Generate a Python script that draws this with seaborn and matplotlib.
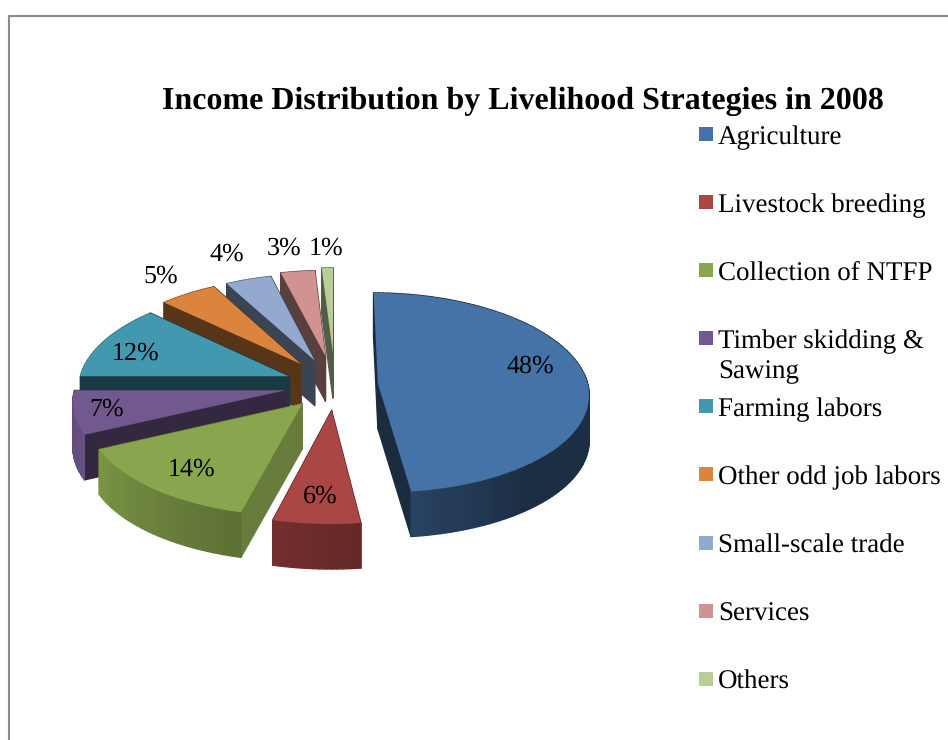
import numpy as np
import matplotlib
matplotlib.use("Agg")
import matplotlib.pyplot as plt
from matplotlib.collections import PolyCollection
from matplotlib.patches import Rectangle
from matplotlib.lines import Line2D
from matplotlib.transforms import Transform
import seaborn as sns

# Income shares in percent
strategies = ["Agriculture", "Livestock breeding", "Collection of NTFP",
              "Timber skidding &\nSawing", "Farming labors", "Other odd job labors",
              "Small-scale trade", "Services", "Others"]
shares = [48, 6, 14, 7, 12, 5, 4, 3, 1]
title = "Income Distribution by Livelihood Strategies in 2008"

# Styling
slice_colors = ["#4572A7", "#AA4643", "#89A54E", "#71588F", "#4198AF",
                "#DB843D", "#93A9CF", "#D19392", "#B9CD96"]
explode = [0.205, 0.25, 0.24, 0.24, 0.24, 0.27, 0.27, 0.30, 0.33]
radial_shade = [0.39, 0.5, 0.76, 0.45, 0.38, 0.40, 0.40, 0.43, 0.45]
shade_angle = [0, 90, 140, 172, 195, 245, 270, 360]
shade_level = [0.4, 0.4, 0.4, 0.58, 0.68, 0.9, 0.85, 0.5]
label_px = [(530, 366), (320, 496), (192, 469), (107, 409), (136, 353),
            (161, 276), (227, 254), (284, 248), (326, 248)]

W, H = 948, 740
CX, CY, RX, RY = 335, 385, 210, 100
DEPTH = 0.45
WIDEN, SQUASH = 0.10, 0.09

sns.set_theme(style="white")
plt.rcParams["font.family"] = ["Liberation Serif", "DejaVu Serif"]
plt.rcParams["text.hinting"] = "no_hinting"
plt.rcParams["text.hinting_factor"] = 1
palette = sns.color_palette(slice_colors)


class Tilt(Transform):
    """Perspective of a pie seen from above: nearer parts look larger."""
    input_dims = output_dims = 2
    is_separable = False
    has_inverse = False

    def transform_non_affine(self, values):
        x, y = np.asarray(values).T
        return np.column_stack((x * (1 - WIDEN * y), y - SQUASH * y * y))


fig = plt.figure(figsize=(W / 100, H / 100), dpi=100, facecolor="white")
ax = fig.add_axes([0, 0, 1, 1])
wedges, _ = ax.pie(shares, colors=palette, explode=explode, startangle=90,
                   counterclock=False, wedgeprops={"linewidth": 0})
ax.set_aspect("auto")
ax.set_xlim(-CX / RX, (W - CX) / RX)
ax.set_ylim((CY - H) / RY, CY / RY)
ax.axis("off")

tilt = Tilt()


def shaded(color, level):
    return tuple(np.clip(np.array(color) * level, 0, 1))


def rim(wedge, theta):
    cx, cy = wedge.center
    t = np.deg2rad(theta)
    return tilt.transform(np.column_stack((cx + wedge.r * np.cos(t), cy + wedge.r * np.sin(t))))


def extrude(top):
    return np.vstack((top, top[::-1] - [0, DEPTH]))


# Paint from the back of the pie to the front, sides first and top last
for order, i in enumerate(range(len(wedges) - 1, -1, -1)):
    w = wedges[i]
    color = palette[i]
    base = order * 10 + 5

    apex = tilt.transform(np.array([w.center]))
    faces, tones, keys = [], [], []
    for theta in (w.theta1, w.theta2):
        edge = np.vstack((apex, rim(w, np.array([theta]))))
        faces.append(extrude(edge))
        tones.append(shaded(color, radial_shade[i]))
        keys.append(edge[:, 1].mean())

    thetas = np.linspace(w.theta1, w.theta2, max(3, int((w.theta2 - w.theta1) / 1.5) + 2))
    for a, b in zip(thetas[:-1], thetas[1:]):
        faces.append(extrude(rim(w, np.array([a, b]))))
        level = np.interp((90 - (a + b) / 2) % 360, shade_angle, shade_level)
        tones.append(shaded(color, level))
        keys.append(rim(w, np.array([(a + b) / 2]))[0, 1])

    rank = np.argsort(keys)[::-1]
    sides = PolyCollection([faces[k] for k in rank], facecolors=[tones[k] for k in rank],
                           edgecolors=[tones[k] for k in rank], linewidths=1.0,
                           transform=ax.transData, zorder=base)
    ax.add_collection(sides, autolim=False)

    w.set_transform(tilt + ax.transData)
    w.set_zorder(base + 1)

# Percentage labels
for value, (px, py) in zip(shares, label_px):
    fig.text(px / W, 1 - py / H, f"{value}%", ha="center", va="center",
             fontsize=18.6, color="black", zorder=200)

# Title and legend rows at an even pitch
fig.text(523 / W, 1 - 101 / H, title, ha="center", va="center",
         fontsize=23.1, fontweight="bold", color="black")
for k, (label, color) in enumerate(zip(strategies, palette)):
    row = 134 + 68.1 * k
    fig.add_artist(Rectangle((699 / W, 1 - (row + 7) / H), 14 / W, 14 / H,
                             transform=fig.transFigure, facecolor=color, edgecolor="none"))
    fig.text(718 / W, 1 - (row - 9) / H, label, ha="left", va="top",
             fontsize=19.15, color="black", linespacing=1.31)

# Outer frame, open on the right and bottom
fig.add_artist(Line2D([8.5 / W, 8.5 / W, 1], [0, 1 - 15.5 / H, 1 - 15.5 / H],
                      transform=fig.transFigure, color="#8C8C8C", linewidth=1.5))

fig.savefig("out.png", dpi=100, facecolor="white")
